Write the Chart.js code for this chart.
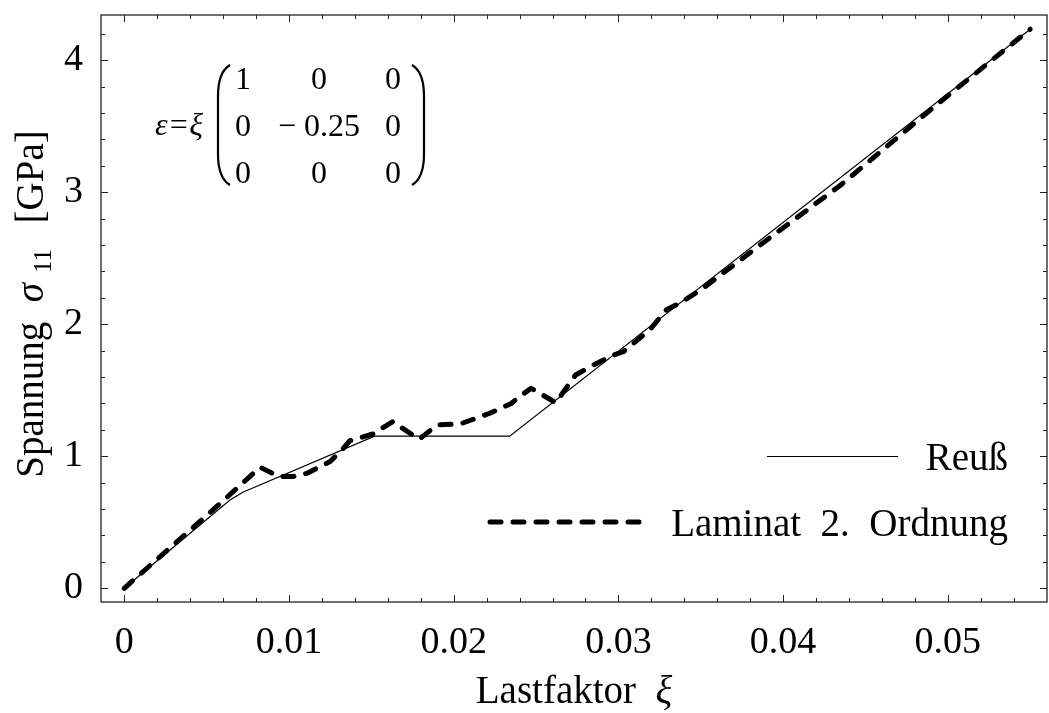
<!DOCTYPE html>
<html>
<head>
<meta charset="utf-8">
<script src="https://cdn.jsdelivr.net/npm/chart.js@4.4.1/dist/chart.umd.min.js"></script>
<style>
html, body { margin: 0; padding: 0; background: #fff; }
#wrap { width: 1049px; height: 713px; }
</style>
</head>
<body>
<div id="wrap"><canvas id="chart" width="1049" height="713"></canvas></div>
<script>
// values (Lastfaktor xi -> Spannung sigma_11 in GPa)
var reussX = [0, 0.0034, 0.0064, 0.0072, 0.0152, 0.0234, 0.0550];
var reussY = [0, 0.354, 0.666, 0.728, 1.152, 1.152, 4.235];

var laminatX = [0, 0.0056, 0.00825, 0.0094, 0.0102, 0.0111, 0.0125, 0.0133, 0.0137, 0.0151, 0.0163, 0.0179, 0.0190, 0.0204, 0.0222, 0.0235, 0.0240, 0.0247, 0.0262, 0.0274, 0.0285, 0.0297, 0.0303, 0.0319, 0.0329, 0.0337, 0.0350, 0.0386, 0.0435, 0.0493, 0.0550];
var laminatY = [0, 0.618, 0.917, 0.846, 0.846, 0.871, 0.960, 1.060, 1.118, 1.169, 1.262, 1.129, 1.237, 1.245, 1.326, 1.400, 1.452, 1.515, 1.406, 1.616, 1.692, 1.767, 1.792, 1.957, 2.108, 2.159, 2.260, 2.600, 3.055, 3.661, 4.235];

var xTicks = [0, 0.01, 0.02, 0.03, 0.04, 0.05];
var xTickLabels = ["0", "0.01", "0.02", "0.03", "0.04", "0.05"];
var yTicks = [0, 1, 2, 3, 4];
var yTickLabels = ["0", "1", "2", "3", "4"];

var serif = "'Liberation Serif', 'Times New Roman', serif";

function toPoints(xs, ys) {
	var pts = [];
	for (var i = 0; i < xs.length; i++) {
		pts.push({ x: xs[i], y: ys[i] });
	}
	return pts;
}

// frame with inward ticks on all four sides
var framePlugin = {
	id: 'frame',
	afterDatasetsDraw: function (chart) {
		var ctx = chart.ctx, a = chart.chartArea;
		var sx = chart.scales.x, sy = chart.scales.y;
		ctx.save();
		ctx.strokeStyle = '#222';
		ctx.lineWidth = 1.3;
		ctx.strokeRect(a.left, a.top, a.right - a.left, a.bottom - a.top);
		ctx.lineWidth = 1;
		ctx.beginPath();
		for (var i = 0; i <= 27; i++) {
			var px = Math.round(sx.getPixelForValue(i * 0.002)) + 0.5;
			var len = (i % 5 == 0) ? 7 : 4;
			ctx.moveTo(px, a.bottom); ctx.lineTo(px, a.bottom - len);
			ctx.moveTo(px, a.top); ctx.lineTo(px, a.top + len);
		}
		for (var j = 0; j <= 21; j++) {
			var py = Math.round(sy.getPixelForValue(j * 0.2)) + 0.5;
			var len2 = (j % 5 == 0) ? 7 : 4;
			ctx.moveTo(a.left, py); ctx.lineTo(a.left + len2, py);
			ctx.moveTo(a.right, py); ctx.lineTo(a.right - len2, py);
		}
		ctx.stroke();
		ctx.restore();
	}
};

// axis titles, legend and strain matrix
var textPlugin = {
	id: 'texts',
	afterDraw: function (chart) {
		var ctx = chart.ctx, a = chart.chartArea;
		ctx.save();
		ctx.fillStyle = '#000';
		ctx.strokeStyle = '#000';

		// x title
		ctx.textBaseline = 'alphabetic';
		var t1 = 'Lastfaktor  ';
		ctx.font = 'italic 39px ' + serif;
		var wXi = ctx.measureText('\u03BE').width;
		ctx.font = '39px ' + serif;
		var w1 = ctx.measureText(t1).width;
		var cx = (a.left + a.right) / 2;
		var sx0 = cx - (w1 + wXi) / 2;
		ctx.textAlign = 'left';
		ctx.fillText(t1, sx0, 703);
		ctx.font = 'italic 39px ' + serif;
		ctx.fillText('\u03BE', sx0 + w1, 703);

		// y title (rotated, with subscript)
		var segs = [
			{ t: 'Spannung  ', f: '39px ' + serif, dy: 0, gap: 0 },
			{ t: '\u03C3', f: 'italic 39px ' + serif, dy: 0, gap: 10 },
			{ t: '11', f: '25px ' + serif, dy: 8, gap: 6 },
			{ t: '  [GPa]', f: '39px ' + serif, dy: 0, gap: 0 }
		];
		var total = 0;
		segs.forEach(function (s) { ctx.font = s.f; s.w = ctx.measureText(s.t).width; total += s.w + s.gap; });
		ctx.save();
		ctx.translate(43, 304);
		ctx.rotate(-Math.PI / 2);
		var pos = -total / 2;
		segs.forEach(function (s) {
			ctx.font = s.f;
			ctx.fillText(s.t, pos, s.dy);
			pos += s.w + s.gap;
		});
		ctx.restore();

		// legend
		ctx.font = '39px ' + serif;
		ctx.textAlign = 'right';
		ctx.fillText('Reu\u00DF', 1008, 470);
		ctx.fillText('Laminat  2.  Ordnung', 1008, 536);
		ctx.lineWidth = 1.2;
		ctx.beginPath();
		ctx.moveTo(767, 456.5); ctx.lineTo(898, 456.5);
		ctx.stroke();
		ctx.lineWidth = 5;
		ctx.lineCap = 'round';
		ctx.setLineDash([11, 12]);
		ctx.beginPath();
		ctx.moveTo(490, 522); ctx.lineTo(645, 522);
		ctx.stroke();
		ctx.setLineDash([]);
		ctx.lineCap = 'butt';

		// strain matrix
		ctx.font = 'italic 32px ' + serif;
		ctx.textAlign = 'right';
		ctx.fillText('\u03B5=\u03BE', 203, 135);
		ctx.font = '32px ' + serif;
		ctx.textAlign = 'center';
		var rows = [89, 136, 183];
		var cols = [243, 319, 393];
		var cells = [["1", "0", "0"], ["0", "\u2212 0.25", "0"], ["0", "0", "0"]];
		for (var r = 0; r < 3; r++) {
			for (var c = 0; c < 3; c++) {
				ctx.fillText(cells[r][c], cols[c], rows[r]);
			}
		}
		ctx.lineWidth = 2.2;
		ctx.beginPath();
		ctx.moveTo(230, 65);
		ctx.quadraticCurveTo(218, 72, 218, 96);
		ctx.lineTo(218, 154);
		ctx.quadraticCurveTo(218, 178, 230, 185);
		ctx.moveTo(412, 65);
		ctx.quadraticCurveTo(424, 72, 424, 96);
		ctx.lineTo(424, 154);
		ctx.quadraticCurveTo(424, 178, 412, 185);
		ctx.stroke();

		ctx.restore();
	}
};

var chart = new Chart(document.getElementById('chart'), {
	type: 'scatter',
	data: {
		datasets: [{
			label: 'Laminat 2. Ordnung',
			data: toPoints(laminatX, laminatY),
			showLine: true,
			borderColor: '#000',
			borderWidth: 5,
			borderDash: [11, 12],
			borderCapStyle: 'round',
			borderJoinStyle: 'round',
			pointRadius: 0,
			tension: 0,
			order: 0
		}, {
			label: 'Reu\u00DF',
			data: toPoints(reussX, reussY),
			showLine: true,
			borderColor: '#000',
			borderWidth: 1.2,
			pointRadius: 0,
			tension: 0,
			order: 1
		}]
	},
	options: {
		responsive: false,
		animation: false,
		devicePixelRatio: 1,
		layout: { padding: { top: 15, right: 2, left: 0, bottom: 0 } },
		plugins: {
			legend: { display: false },
			tooltip: { enabled: false }
		},
		scales: {
			x: {
				type: 'linear',
				min: -0.00141,
				max: 0.05602,
				grid: { display: false, drawTicks: false },
				border: { display: false },
				afterBuildTicks: function (s) { s.ticks = xTicks.map(function (v) { return { value: v }; }); },
				afterFit: function (s) { s.height = 111; s.paddingLeft = 0; s.paddingRight = 0; },
				ticks: {
					font: { family: serif, size: 38 },
					color: '#000',
					padding: 18,
					maxRotation: 0,
					autoSkip: false,
					callback: function (v) { return xTickLabels[xTicks.indexOf(v)]; }
				}
			},
			y: {
				type: 'linear',
				min: -0.104,
				max: 4.343,
				grid: { display: false, drawTicks: false },
				border: { display: false },
				afterBuildTicks: function (s) { s.ticks = yTicks.map(function (v) { return { value: v }; }); },
				afterFit: function (s) { s.width = 101; s.paddingTop = 0; s.paddingBottom = 0; },
				ticks: {
					font: { family: serif, size: 38 },
					color: '#000',
					padding: 18,
					autoSkip: false,
					callback: function (v) { return yTickLabels[yTicks.indexOf(v)]; }
				}
			}
		}
	},
	plugins: [framePlugin, textPlugin]
});
</script>
</body>
</html>
